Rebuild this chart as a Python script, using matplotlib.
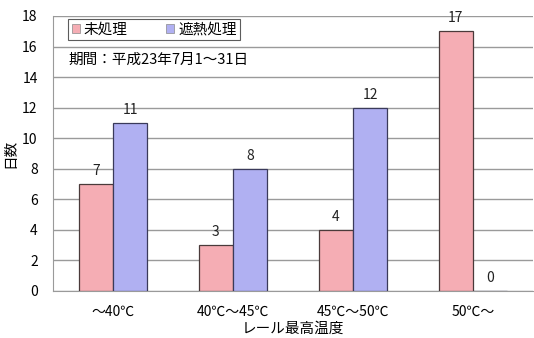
import matplotlib
matplotlib.use('Agg')
import matplotlib.pyplot as plt
from matplotlib.patches import Patch
import numpy as np

plt.rcParams['font.family'] = ['Noto Sans CJK JP', 'DejaVu Sans']

categories = ['～40℃', '40℃～45℃', '45℃～50℃', '50℃～']
untreated = [7, 3, 4, 17]
heat_shield = [11, 8, 12, 0]
series_names = ['未処理', '遮熱処理']
period_text = '期間：平成23年7月1～31日'

pink = '#f5adb4'
blue = '#b0b0f2'

fig = plt.figure(figsize=(5.34, 3.38), dpi=100)
ax = fig.add_axes([53 / 534, 1 - 291 / 338, 480 / 534, 275 / 338])

x = np.arange(len(categories))
w = 0.285
b1 = ax.bar(x - w / 2, untreated, w, color=pink, edgecolor='#4a3a3a', linewidth=0.9, zorder=3)
b2 = ax.bar(x + w / 2, heat_shield, w, color=blue, edgecolor='#3a3a5a', linewidth=0.9, zorder=3)

for bars, vals in ((b1, untreated), (b2, heat_shield)):
    for r, v in zip(bars, vals):
        ax.text(r.get_x() + r.get_width() / 2, v + 0.4, str(v),
                ha='center', va='bottom', fontsize=10, color='#222222')

ax.set_xlim(-0.5, len(categories) - 0.5)
ax.set_ylim(0, 18)
ax.set_yticks(range(0, 19, 2))
ax.set_xticks(x)
ax.set_xticklabels(categories, fontsize=10)
ax.tick_params(axis='y', labelsize=10, length=0, pad=11)
ax.tick_params(axis='x', length=0, pad=10)
ax.yaxis.grid(True, color='#9a9a9a', linewidth=1.0, zorder=0)
ax.set_axisbelow(True)
for s in ('top', 'right'):
    ax.spines[s].set_visible(False)
ax.spines['left'].set_color('#9a9a9a')
ax.spines['bottom'].set_color('#9a9a9a')

ax.set_ylabel('日数', fontsize=10.5)
ax.yaxis.set_label_coords(-0.075, 0.5)
ax.set_xlabel('レール最高温度', fontsize=10.5, labelpad=2)

handles = [Patch(facecolor=pink, edgecolor='#888888', linewidth=0.5),
           Patch(facecolor=blue, edgecolor='#888888', linewidth=0.5)]
leg = ax.legend(handles, series_names, loc='upper left', bbox_to_anchor=(0.031, 0.989),
                ncol=2, fontsize=10.5, frameon=True, fancybox=False, handlelength=0.55,
                handleheight=0.55, handletextpad=0.3, columnspacing=2.6,
                borderpad=0.25, borderaxespad=0)
leg.get_frame().set_edgecolor('#333333')
leg.get_frame().set_linewidth(0.8)

fig.text(68 / 534, 1 - 60 / 338, period_text, fontsize=10.5, va='center', ha='left')

fig.savefig('out.png', dpi=100)
